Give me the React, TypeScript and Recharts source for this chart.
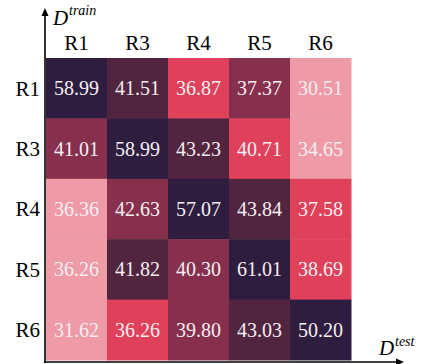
import React from 'react';
import { ScatterChart, Scatter, XAxis, YAxis, Customized } from 'recharts';

const categories = ['R1', 'R3', 'R4', 'R5', 'R6'];
const values: number[][] = [
  [58.99, 41.51, 36.87, 37.37, 30.51],
  [41.01, 58.99, 43.23, 40.71, 34.65],
  [36.36, 42.63, 57.07, 43.84, 37.58],
  [36.26, 41.82, 40.30, 61.01, 38.69],
  [31.62, 36.26, 39.80, 43.03, 50.20],
];
// colour level per cell (0 = darkest ... 4 = lightest)
const levels: number[][] = [
  [0, 1, 3, 2, 4],
  [2, 0, 1, 3, 4],
  [4, 2, 0, 1, 3],
  [4, 1, 2, 0, 3],
  [4, 3, 2, 1, 0],
];
const palette = ['#2f1d3f', '#51243f', '#86304d', '#df405a', '#ee9aa7'];

const data = values.flatMap((row, r) =>
  row.map((v, c) => ({ x: c, y: r, v, level: levels[r][c] }))
);

const FONT = 'Liberation Serif, Times New Roman, serif';

const W = 422;
const H = 364;
const M = { top: 10, right: 71, bottom: 4, left: 0 };
const YW = 46;
const XH = 48;
const plotW = W - M.left - M.right - YW;
const plotH = H - M.top - M.bottom - XH;
const cw = plotW / 5;
const ch = plotH / 5;

const CellShape = (props: any) => {
  const { cx, cy, payload } = props;
  return (
    <g>
      <rect x={cx - cw / 2} y={cy - ch / 2} width={cw + 0.5} height={ch + 0.5} fill={palette[payload.level]} />
      <text x={cx} y={cy} dy="0.35em" textAnchor="middle" fill="#f5eef2" fontSize={20} style={{ fontFamily: FONT }}>
        {payload.v.toFixed(2)}
      </text>
    </g>
  );
};

const Arrows = () => {
  const x0 = 45;
  const y0 = 362;
  const it = { fontFamily: FONT, fontStyle: 'italic' as const };
  return (
    <g>
      <line x1={x0} y1={y0 + 1} x2={x0} y2={14} stroke="#000" strokeWidth={1.6} />
      <polygon points={`${x0},8 ${x0 - 3.5},16 ${x0 + 3.5},16`} fill="#000" />
      <line x1={x0 - 1} y1={y0} x2={398} y2={y0} stroke="#000" strokeWidth={1.6} />
      <polygon points={`404,${y0} 396,${y0 - 3.5} 396,${y0 + 3.5}`} fill="#000" />
      <text x={53} y={25} style={it} fontSize={21} fill="#000">D</text>
      <text x={69} y={15} style={it} fontSize={14} fill="#000">train</text>
      <text x={379} y={355} style={it} fontSize={21} fill="#000">D</text>
      <text x={395} y={346} style={it} fontSize={14} fill="#000">test</text>
    </g>
  );
};

const tickStyle = { fill: '#000', fontSize: 21, style: { fontFamily: FONT } };

export default function App() {
  return (
    <div style={{ position: 'absolute', left: 0, top: 0 }}>
      <ScatterChart width={W} height={H} margin={M}>
        <XAxis
          type="number"
          dataKey="x"
          orientation="top"
          domain={[-0.5, 4.5]}
          ticks={[0, 1, 2, 3, 4]}
          tickFormatter={(i: number) => categories[i]}
          axisLine={false}
          tickLine={false}
          tickSize={0}
          tickMargin={8}
          height={XH}
          interval={0}
          tick={tickStyle}
        />
        <YAxis
          type="number"
          dataKey="y"
          reversed
          domain={[-0.5, 4.5]}
          ticks={[0, 1, 2, 3, 4]}
          tickFormatter={(i: number) => categories[i]}
          axisLine={false}
          tickLine={false}
          tickSize={0}
          tickMargin={6}
          width={YW}
          interval={0}
          tick={tickStyle}
        />
        <Scatter data={data} shape={<CellShape />} isAnimationActive={false} />
        <Customized component={<Arrows />} />
      </ScatterChart>
    </div>
  );
}
